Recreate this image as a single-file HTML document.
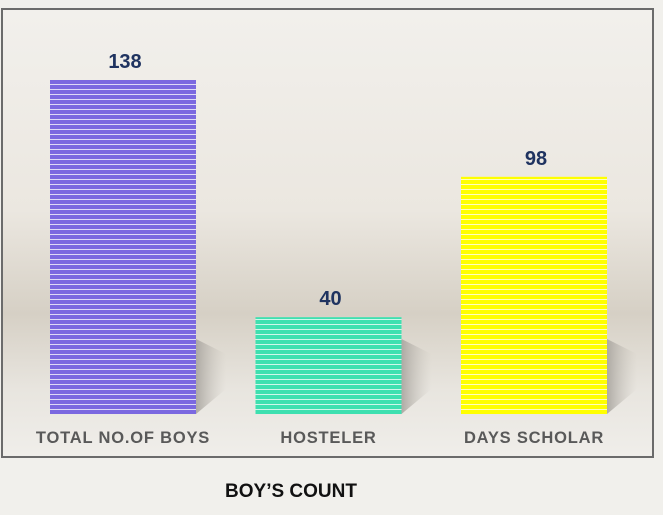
<!DOCTYPE html>
<html><head><meta charset="utf-8"><style>
body{margin:0;width:663px;height:510px;background:#f1f0ec;font-family:"Liberation Sans",sans-serif;overflow:hidden}
</style></head><body>
<svg width="663" height="510">
<defs>
<linearGradient id="bg" x1="0" y1="0" x2="0" y2="1">
<stop offset="0" stop-color="#f2f0ec"/><stop offset="0.45" stop-color="#ebe7e0"/>
<stop offset="0.68" stop-color="#d6d0c5"/><stop offset="0.85" stop-color="#e8e5df"/><stop offset="1" stop-color="#f0eeea"/>
</linearGradient>
<linearGradient id="sh" x1="0" y1="0" x2="1" y2="0">
<stop offset="0" stop-color="#a8a49e" stop-opacity="0.9"/><stop offset="1" stop-color="#c8c4bc" stop-opacity="0"/>
</linearGradient>
<pattern id="str" width="5" height="5" patternUnits="userSpaceOnUse"><rect y="4" width="5" height="1" fill="#fff" opacity="0.75"/></pattern>
</defs>
<rect x="2" y="9" width="651" height="448" fill="url(#bg)" stroke="#6b6b6b" stroke-width="2"/>
<g id="bars"></g>
<text x="291" y="497" text-anchor="middle" font-weight="bold" font-size="19" fill="#111">BOY’S COUNT</text>
</svg>
<script>
const categories=["TOTAL NO.OF BOYS","HOSTELER","DAYS SCHOLAR"];
const values=[138,40,98];
const colors=["#7b68e0","#3ee0b0","#ffff00"];
const g=document.getElementById('bars');
const base=414, scale=334/138, x0=50, step=205.5, bw=146;
const ns="http://www.w3.org/2000/svg";
function y(v){return base-v*scale;}
categories.forEach((c,i)=>{
 const x=x0+i*step, top=y(values[i]), h=base-top;
 const sh=document.createElementNS(ns,'polygon');
 sh.setAttribute('points',`${x+bw},${base} ${x+bw},${Math.max(top,base-75)} ${x+bw+30},${Math.max(top,base-75)+15} ${x+bw+30},${base-25}`);
 sh.setAttribute('fill','url(#sh)');
 
 
 g.appendChild(sh);
 const r=document.createElementNS(ns,'rect');
 r.setAttribute('x',x);r.setAttribute('y',top);r.setAttribute('width',bw);r.setAttribute('height',h);r.setAttribute('fill',colors[i]);
 
 
 g.appendChild(r);
 const p=document.createElementNS(ns,'rect');
 p.setAttribute('x',x);p.setAttribute('y',top);p.setAttribute('width',bw);p.setAttribute('height',h);p.setAttribute('fill','url(#str)');
 
 
 g.appendChild(p);
 const t=document.createElementNS(ns,'text');
 t.setAttribute('x',x+bw/2+2);t.setAttribute('y',top-12);t.setAttribute('text-anchor','middle');
 t.setAttribute('font-weight','bold');t.setAttribute('font-size','20');t.setAttribute('fill','#1f3360');
 t.textContent=values[i];
 
 
 g.appendChild(t);
 const l=document.createElementNS(ns,'text');
 l.setAttribute('x',x+bw/2);l.setAttribute('y',443);l.setAttribute('text-anchor','middle');
 l.setAttribute('font-weight','bold');l.setAttribute('font-size','16.5');l.setAttribute('letter-spacing','0.8');l.setAttribute('fill','#595959');
 l.textContent=c;
 
 
 g.appendChild(l);
});
</script>
</body></html>
